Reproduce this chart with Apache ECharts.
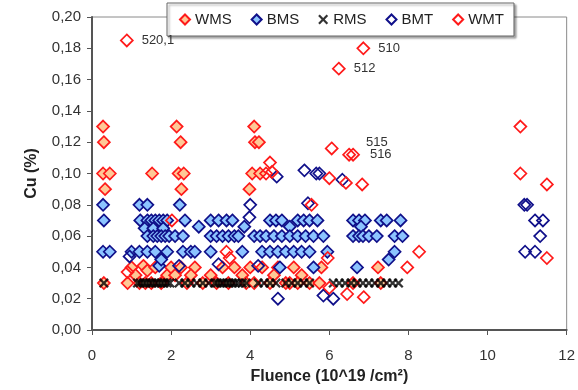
<!DOCTYPE html>
<html><head><meta charset="utf-8">
<script src="https://cdn.jsdelivr.net/npm/echarts@6/dist/echarts.min.js"></script>
<style>html,body{margin:0;padding:0;background:#fff}#c{width:578px;height:390px}</style>
</head><body><div id="c"></div>
<script>
const xTicks = [0, 2, 4, 6, 8, 10, 12];
const yTicks = [0, 0.02, 0.04, 0.06, 0.08, 0.10, 0.12, 0.14, 0.16, 0.18, 0.20];
const seriesNames = ['WMS', 'BMS', 'RMS', 'BMT', 'WMT'];

const wms = [
 [0.28,0.13],[0.3,0.12],[0.28,0.10],[0.45,0.10],[0.33,0.09],
 [1.52,0.10],[2.14,0.13],[2.24,0.12],[2.19,0.10],[2.32,0.10],[2.26,0.09],
 [4.1,0.13],[4.12,0.12],[4.22,0.12],[4.05,0.10],[4.25,0.10],[3.98,0.09],
 [0.3,0.03],[0.9,0.03],[1.0,0.04],[1.1,0.035],[1.2,0.03],[1.3,0.041],[1.4,0.038],[1.5,0.03],[1.6,0.04],
 [1.75,0.03],[1.9,0.035],[2.0,0.04],[2.1,0.035],[2.25,0.04],[2.4,0.03],[2.6,0.04],[2.8,0.03],[3.0,0.035],
 [3.3,0.04],[3.45,0.03],[3.6,0.04],[3.8,0.035],[3.9,0.03],[4.0,0.04],[4.1,0.03],[4.3,0.04],[4.5,0.03],
 [4.7,0.04],[4.9,0.03],[5.0,0.03],[5.1,0.04],[5.3,0.035],[5.5,0.03],[5.75,0.03],[5.8,0.04],[6.6,0.03],
 [7.23,0.04],[7.3,0.03],[1.35,0.03],[2.5,0.035],[3.15,0.03],[4.6,0.035],[5.2,0.03]
];
const bms = [
 [0.28,0.08],[0.3,0.07],[0.28,0.05],[0.45,0.05],
 [1.2,0.08],[1.4,0.08],[2.22,0.08],
 [1.22,0.07],[1.4,0.07],[1.5,0.07],[1.6,0.07],[1.7,0.07],[1.8,0.07],[1.9,0.07],[2.35,0.07],
 [3.0,0.07],[3.2,0.07],[3.4,0.07],[3.55,0.07],[4.5,0.07],[4.65,0.07],[4.8,0.07],[5.2,0.07],
 [5.35,0.07],[5.5,0.07],[5.7,0.07],[6.6,0.07],[6.75,0.07],[6.9,0.07],[7.3,0.07],[7.45,0.07],[7.8,0.07],
 [1.33,0.065],[1.55,0.065],[1.8,0.065],[2.7,0.066],[3.85,0.066],[5.0,0.066],[6.8,0.066],
 [1.4,0.06],[1.55,0.06],[1.65,0.06],[1.75,0.06],[1.85,0.06],[1.95,0.06],[2.1,0.06],[2.3,0.06],
 [3.0,0.06],[3.15,0.06],[3.3,0.06],[3.45,0.06],[3.6,0.06],[3.7,0.06],[4.1,0.06],[4.25,0.06],
 [4.4,0.06],[4.6,0.06],[4.8,0.06],[5.0,0.06],[5.2,0.06],[5.4,0.06],[5.6,0.06],[5.85,0.06],
 [6.6,0.06],[6.75,0.06],[6.85,0.06],[7.0,0.06],[7.2,0.06],[7.65,0.06],[7.85,0.06],
 [1.0,0.05],[1.2,0.05],[1.4,0.05],[1.6,0.05],[1.9,0.05],[2.3,0.05],[2.5,0.05],[2.6,0.05],
 [3.0,0.05],[3.8,0.05],[4.3,0.05],[4.5,0.05],[4.7,0.05],[4.9,0.05],[5.1,0.05],[5.3,0.05],
 [5.5,0.05],[5.95,0.05],[7.65,0.05],
 [1.7,0.041],[1.75,0.045],[4.75,0.04],[5.6,0.04],[6.7,0.04],[7.5,0.045]
];
const rms = [
 [0.3,0.03],[1.15,0.03],[1.22,0.03],[1.3,0.03],[1.37,0.03],[1.45,0.03],[1.52,0.03],[1.6,0.03],
 [1.67,0.03],[1.75,0.03],[1.82,0.03],[1.9,0.03],[1.97,0.03],[2.2,0.03],[2.35,0.03],[2.5,0.03],
 [2.65,0.03],[2.8,0.03],[2.95,0.03],[3.1,0.03],[3.17,0.03],[3.25,0.03],[3.32,0.03],[3.4,0.03],
 [3.47,0.03],[3.55,0.03],[3.62,0.03],[3.7,0.03],[3.8,0.03],[3.9,0.03],[4.2,0.03],[4.35,0.03],
 [4.5,0.03],[4.65,0.03],[4.9,0.03],[5.05,0.03],[5.2,0.03],[5.35,0.03],[5.5,0.03],[6.1,0.03],
 [6.25,0.03],[6.4,0.03],[6.55,0.03],[6.7,0.03],[6.85,0.03],[7.0,0.03],[7.15,0.03],[7.3,0.03],
 [7.45,0.03],[7.6,0.03],[7.75,0.03]
];
const bmt = [
 [0.95,0.047],[2.2,0.041],[3.2,0.042],[3.98,0.072],[4.0,0.08],[4.2,0.041],[4.67,0.098],[4.7,0.02],
 [5.37,0.102],[5.46,0.081],[5.67,0.10],[5.75,0.10],[5.85,0.022],[6.1,0.02],[6.33,0.096],
 [10.93,0.08],[11.0,0.08],[11.2,0.07],[11.4,0.07],[11.33,0.06],[10.95,0.05],[11.2,0.05]
];
const wmt = [
 [0.88,0.185],[6.86,0.18],[6.24,0.167],[6.5,0.112],[6.6,0.112],
 [10.83,0.13],[6.06,0.116],[10.83,0.10],[6.0,0.097],[6.42,0.094],[6.83,0.093],[5.55,0.08],
 [11.5,0.093],[11.5,0.046],[8.27,0.05],[7.97,0.04],[5.96,0.046],[6.45,0.023],[6.87,0.021],
 [6.0,0.027],[4.5,0.107],[4.55,0.101],[3.4,0.05],[3.48,0.046],[2.02,0.07],[0.9,0.037],[4.4,0.1]
];
const wmtLabels = ['520,1', '510', '512', '515', '516'];
const labelOffsets = [[0,0],[0,0],[0,0],[2,-12],[2,0]];

const RED = '#ff1a1a', NAVY = '#10108a', ORANGE = '#ffc896', LBLUE = '#8cc4ff';
const XPATH = 'path://M0,1.6L1.6,0L5,3.4L8.4,0L10,1.6L6.6,5L10,8.4L8.4,10L5,6.6L1.6,10L0,8.4L3.4,5Z';
const FONT = '"Liberation Sans", Arial, sans-serif';

const chart = echarts.init(document.getElementById('c'), null, {renderer: 'canvas'});
function diamond(name, data, fill, stroke) {
  return {name, type: 'scatter', data, symbol: 'diamond', symbolSize: [12, 12],
    itemStyle: {color: fill, borderColor: stroke, borderWidth: 1.7, opacity: 1}, z: 2};
}
const wmtData = wmt.map((p, i) => {
  const d = {value: p};
  if (i < wmtLabels.length) {
    d.label = {show: true, formatter: wmtLabels[i], position: 'right', distance: 8,
      offset: labelOffsets[i], color: '#333', fontSize: 13, fontFamily: FONT};
  }
  return d;
});
chart.setOption({
  animation: false,
  textStyle: {fontFamily: FONT},
  grid: {left: 92, right: 3, top: 17, bottom: 57, show: true, borderColor: '#8a8a8a', borderWidth: 1},
  legend: {
    data: seriesNames, left: 167, top: 3, width: 380,
    padding: [9, 10, 9, 12], itemGap: 19, itemWidth: 10, itemHeight: 10,
    backgroundColor: '#fff', borderColor: '#666', borderWidth: 1,
    shadowColor: 'rgba(0,0,0,0.35)', shadowBlur: 2, shadowOffsetX: 2, shadowOffsetY: 2,
    textStyle: {fontSize: 15, color: '#222', fontFamily: FONT}
  },
  xAxis: {
    type: 'value', min: xTicks[0], max: xTicks[xTicks.length - 1], interval: 2,
    name: 'Fluence (10^19 /cm²)', nameLocation: 'middle', nameGap: 39,
    nameTextStyle: {fontSize: 16, fontWeight: 'bold', color: '#222', fontFamily: FONT},
    axisLine: {lineStyle: {color: '#555', width: 2}},
    axisTick: {show: true, length: 5, lineStyle: {color: '#555'}},
    axisLabel: {fontSize: 15, color: '#333', margin: 18, fontFamily: FONT},
    splitLine: {show: false}
  },
  yAxis: {
    type: 'value', min: yTicks[0], max: yTicks[yTicks.length - 1], interval: 0.02,
    name: 'Cu (%)', nameLocation: 'middle', nameGap: 52, nameRotate: 90,
    nameTextStyle: {fontSize: 16, fontWeight: 'bold', color: '#222', fontFamily: FONT},
    axisLine: {show: true, lineStyle: {color: '#555', width: 2}},
    axisTick: {show: true, length: 5, lineStyle: {color: '#555'}},
    axisLabel: {fontSize: 15, color: '#333', margin: 11, fontFamily: FONT,
      formatter: v => v.toFixed(2).replace('.', ',')},
    splitLine: {show: false}
  },
  series: [
    diamond('WMS', wms, ORANGE, RED),
    diamond('BMS', bms, LBLUE, NAVY),
    {name: 'RMS', type: 'scatter', data: rms, symbol: XPATH, symbolSize: 10,
      itemStyle: {color: '#000'}, z: 3},
    diamond('BMT', bmt, 'rgba(255,255,255,0)', NAVY),
    Object.assign(diamond('WMT', wmtData, 'rgba(255,255,255,0)', RED), {z: 4})
  ]
});
</script></body></html>
